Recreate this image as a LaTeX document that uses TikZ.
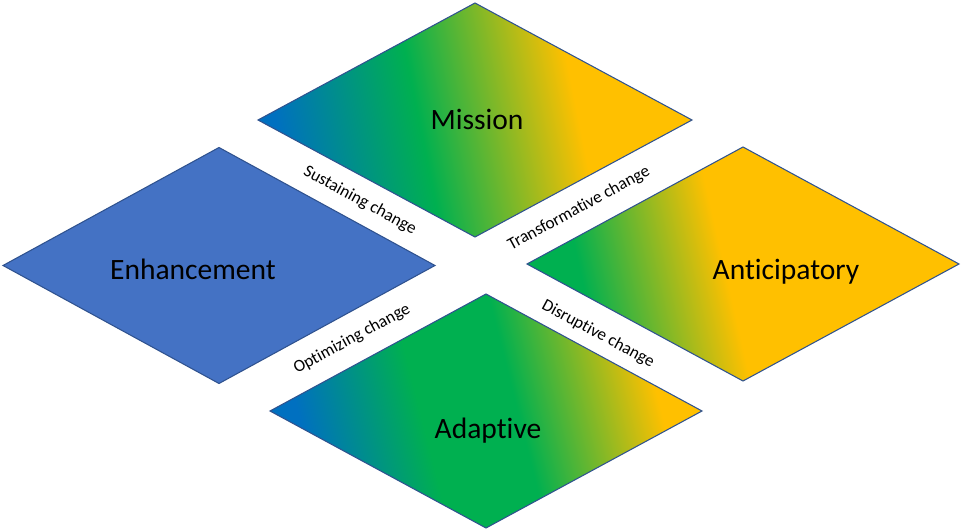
\documentclass[tikz,border=0pt]{standalone}
\usepackage{fontspec}
\setmainfont{Carlito}[Ligatures=NoCommon]
\definecolor{offblue}{HTML}{0070C0}
\definecolor{offgreen}{HTML}{00B050}
\definecolor{offgold}{HTML}{FFC000}
\definecolor{enhblue}{HTML}{4472C4}
\definecolor{edgeblue}{HTML}{2F528F}
\pgfdeclarehorizontalshading{missionshade}{100bp}{color(0bp)=(offblue); color(25.5bp)=(offblue); color(43.1bp)=(offgreen); color(62.7bp)=(offgold); color(100bp)=(offgold)}
\pgfdeclarehorizontalshading{adaptshade}{100bp}{color(0bp)=(offblue); color(26.5bp)=(offblue); color(41.8bp)=(offgreen); color(53.9bp)=(offgreen); color(71.8bp)=(offgold); color(100bp)=(offgold)}
\pgfdeclarehorizontalshading{anticipshade}{100bp}{color(0bp)=(offgreen); color(29.5bp)=(offgreen); color(47.6bp)=(offgold); color(100bp)=(offgold)}
\tikzset{
  rhomb/.style={draw=edgeblue, line width=0.6pt},
  bigtext/.style={font=\fontsize{16.8}{20}\selectfont, anchor=base},
  gaptext/.style={font=\fontsize{9.8}{12}\selectfont, inner sep=0pt}
}
\begin{document}
\begin{tikzpicture}
\useasboundingbox (0,0) rectangle (19.24,10.62);
\draw [rhomb, shading=missionshade, shading angle=11.3] (5.16,8.22) -- (9.5,10.56) -- (13.84,8.22) -- (9.5,5.88) -- cycle; %mission
\draw [rhomb, fill=enhblue] (0.06,5.31) -- (4.38,7.67) -- (8.70,5.31) -- (4.38,2.95) -- cycle; %enhancement
\draw [rhomb, shading=adaptshade, shading angle=14.2] (5.40,2.40) -- (9.72,4.74) -- (14.04,2.40) -- (9.72,0.06) -- cycle; %adaptive
\draw [rhomb, shading=anticipshade, shading angle=12.9] (10.54,5.34) -- (14.86,7.68) -- (19.18,5.34) -- (14.86,3.0) -- cycle; %anticipatory
\node[bigtext] (mission) at (9.54,8.03) {Mission};
\node[bigtext] (enhancement) at (3.86,5.03) {Enhancement};
\node[bigtext] (adaptive) at (9.76,1.85) {Adaptive};
\node[bigtext] (anticipatory) at (15.72,5.02) {Anticipatory};
\node[gaptext, rotate=-28.4] (sustaining) at (7.2,6.61) {Sustaining change};
\node[gaptext, rotate=28.4] (transformative) at (11.58,6.45) {Transformative change};
\node[gaptext, rotate=28.4] (optimizing) at (7.04,3.84) {Optimizing change};
\node[gaptext, rotate=-28.4] (disruptive) at (11.96,3.94) {Disruptive change};
\end{tikzpicture}
\end{document}
